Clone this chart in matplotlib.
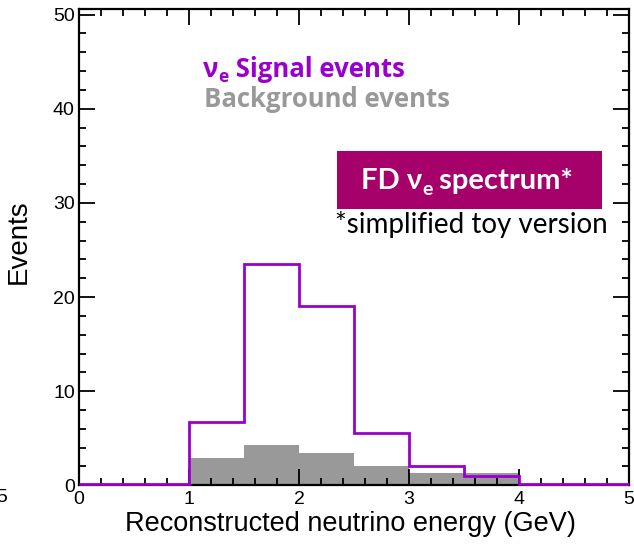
import matplotlib
matplotlib.use("Agg")
import matplotlib.pyplot as plt
from matplotlib.ticker import MultipleLocator
import numpy as np

# Reconstructed energy binning (GeV) and event counts per bin
bin_edges = [0.0, 0.5, 1.0, 1.5, 2.0, 2.5, 3.0, 3.5, 4.0, 4.5, 5.0]
signal_counts = [0.1, 0.1, 6.7, 23.5, 19.1, 5.6, 2.05, 1.0, 0.1, 0.1]
background_counts = [0.0, 0.0, 2.85, 4.3, 3.45, 2.05, 1.27, 1.27, 0.0, 0.0]

x_ticks = [0, 1, 2, 3, 4, 5]
y_ticks = [0, 10, 20, 30, 40, 50]

SIG_COLOR = "#9900CC"
BKG_COLOR = "#999999"
BOX_COLOR = "#A6006B"

W, H = 634, 548
DPI = 100
fig = plt.figure(figsize=(W / DPI, H / DPI), dpi=DPI)
ax = fig.add_axes([79 / W, (H - 485.3) / H, 550 / W, 476.3 / H])

ax.stairs(background_counts, bin_edges, fill=True, color=BKG_COLOR, lw=0, zorder=2)
ax.stairs(signal_counts, bin_edges, color=SIG_COLOR, lw=2.0, baseline=None,
          zorder=5, clip_on=False)

ax.set_xlim(0, 5)
ax.set_ylim(0, 50.6)
ax.set_xticks(x_ticks)
ax.set_yticks(y_ticks)
ax.xaxis.set_minor_locator(MultipleLocator(0.2))
ax.yaxis.set_minor_locator(MultipleLocator(2))

tick_font = {"family": "Liberation Sans", "size": 14}
ax.set_xticklabels([str(v) for v in x_ticks], **tick_font)
ax.set_yticklabels([str(v) for v in y_ticks], **tick_font)
ax.tick_params(which="both", direction="in", top=True, right=True, width=1.3, color="black")
ax.tick_params(which="major", length=11.5)
ax.tick_params(which="minor", length=5)
ax.tick_params(axis="x", which="major", pad=4)
ax.tick_params(axis="y", which="major", pad=3)
for sp in ax.spines.values():
    sp.set_linewidth(1.6)
    sp.set_zorder(4)
ax.set_axisbelow(False)

def px(x, y):
    return x / W, 1 - y / H

fig.text(*px(350, 524), "Reconstructed neutrino energy (GeV)", ha="center", va="center",
         family="Liberation Sans", size=19.5)
fig.text(*px(19, 242), "Events", ha="center", va="center", rotation=90,
         family="Liberation Sans", size=20)
fig.text(*px(-4, 497), "5", ha="left", va="center", **tick_font)

fig.canvas.draw()
renderer = fig.canvas.get_renderer()

def run_text(x0, base_y, segments):
    """Lay out text segments left to right on a shared baseline (pixel coords)."""
    x = x0
    for s, props, dy in segments:
        t = fig.text(*px(x, base_y + dy), s, ha="left", va="baseline", **props)
        bb = t.get_window_extent(renderer)
        x += bb.width

sig_big = {"family": "Open Sans", "weight": "bold", "size": 18.5, "color": SIG_COLOR}
sig_sub = {"family": "Open Sans", "weight": "bold", "size": 12.5, "color": SIG_COLOR}
run_text(203, 77, [("ν", sig_big, 0), ("e", sig_sub, 5), (" Signal events", sig_big, 0)])

bkg_props = {"family": "Open Sans", "weight": "bold", "size": 18.5, "color": BKG_COLOR}
fig.text(*px(204, 107), "Background events", ha="left", va="baseline", **bkg_props)

# Title box
box = plt.Rectangle((336.7 / W, 1 - 209.3 / H), (601.7 - 336.7) / W, (209.3 - 151) / H,
                    transform=fig.transFigure, facecolor=BOX_COLOR, edgecolor="none")
fig.patches.append(box)

box_big = {"family": "Lato", "weight": "bold", "size": 21, "color": "white"}
box_sub = {"family": "Lato", "weight": "bold", "size": 14, "color": "white"}
run_text(361, 189, [("FD ν", box_big, 0), ("e", box_sub, 6), (" spectrum*", box_big, 0)])

fig.text(*px(335, 233), "*simplified toy version", ha="left", va="baseline",
         family="Lato", size=20)

fig.savefig("out.png", dpi=DPI)
